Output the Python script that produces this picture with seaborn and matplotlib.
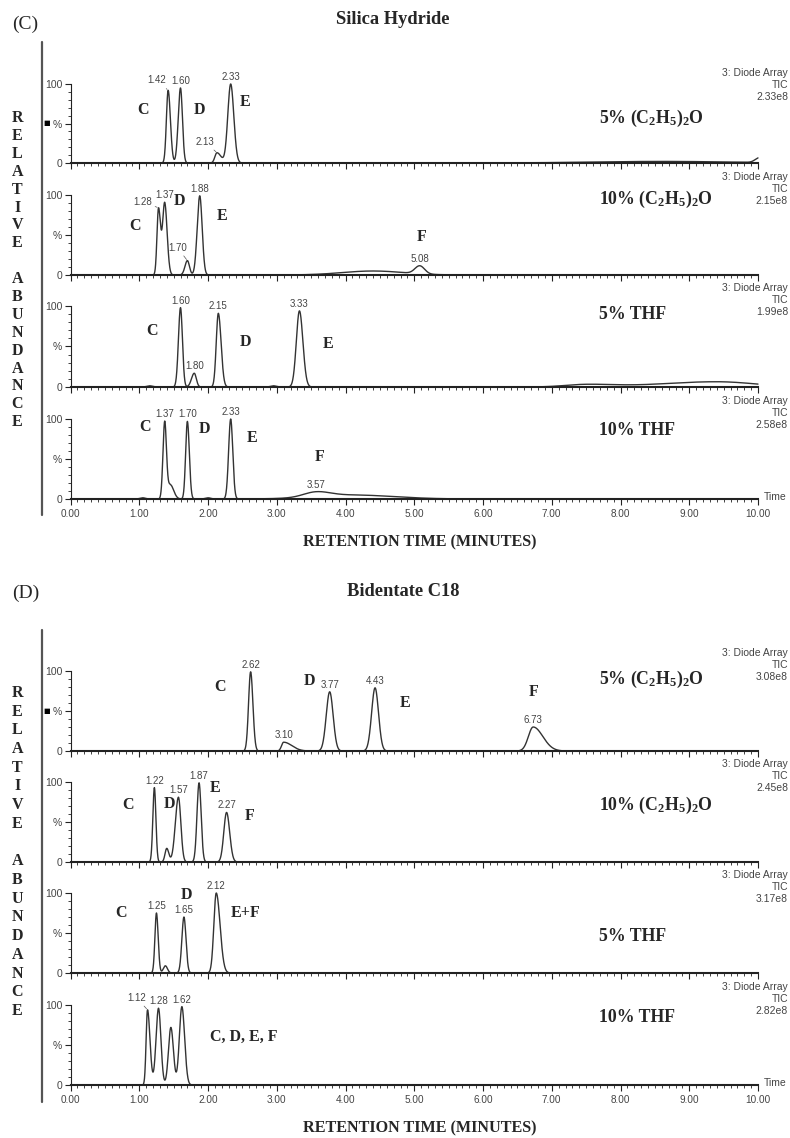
import numpy as np
import pandas as pd
import seaborn as sns
import matplotlib.pyplot as plt
from matplotlib.ticker import MultipleLocator, FixedLocator

# peaks: (retention time, height %, left width, right width)
# (C) silica hydride
c_eth5 = [(1.42, 92, .025, .033), (1.60, 95, .033, .028), (2.13, 13, .03, .06),
          (2.33, 100, .042, .045), (8.6, 2, 1.0, 1.0), (10.02, 6, .06, .06)]
c_eth10 = [(1.28, 83, .022, .03), (1.37, 90, .03, .035), (1.70, 18, .035, .03),
           (1.88, 99, .037, .035), (4.4, 5, .45, .45), (5.08, 10, .07, .07)]
c_thf5 = [(1.15, 1.5, .04, .04), (1.60, 98, .03, .028), (1.80, 17, .04, .03),
          (2.15, 91, .03, .04), (2.95, 1.5, .04, .04), (3.33, 94, .045, .05),
          (7.5, 3, .3, .4), (9.4, 6.5, .8, .55)]
c_thf10 = [(1.05, 1.5, .04, .04), (1.37, 95, .025, .025), (1.45, 18, .04, .05),
           (1.70, 97, .025, .028), (2.0, 1.5, .04, .04), (2.33, 100, .03, .03),
           (3.57, 6, .18, .2), (4.1, 5, .55, .6)]
# (D) bidentate C18
d_eth5 = [(2.62, 99, .03, .033), (3.10, 11, .03, .12), (3.77, 74, .05, .05),
          (4.43, 79, .05, .05), (6.73, 30, .07, .14)]
d_eth10 = [(1.22, 93, .022, .022), (1.40, 17, .025, .03), (1.57, 81, .045, .035),
           (1.87, 99, .03, .03), (2.27, 62, .04, .045)]
d_thf5 = [(1.25, 75, .022, .025), (1.38, 9, .03, .03), (1.65, 70, .03, .03),
          (2.12, 100, .035, .055)]
d_thf10 = [(1.12, 94, .02, .036), (1.28, 96, .036, .035), (1.46, 72, .035, .037),
           (1.62, 98, .037, .04)]

# retention times printed on the traces
c_eth5_lab = [1.42, 1.60, 2.13, 2.33]
c_eth10_lab = [1.28, 1.37, 1.70, 1.88, 5.08]
c_thf5_lab = [1.60, 1.80, 2.15, 3.33]
c_thf10_lab = [1.37, 1.70, 2.33, 3.57]
d_eth5_lab = [2.62, 3.10, 3.77, 4.43, 6.73]
d_eth10_lab = [1.22, 1.57, 1.87, 2.27]
d_thf5_lab = [1.25, 1.65, 2.12]
d_thf10_lab = [1.12, 1.28, 1.62]

# analyte letters: (text, time, %)
c_eth5_ana = [('C', 1.06, 67), ('D', 1.88, 67), ('E', 2.54, 77)]
c_eth10_ana = [('C', 0.94, 61), ('D', 1.59, 92), ('E', 2.20, 74), ('F', 5.11, 48)]
c_thf5_ana = [('C', 1.18, 69), ('D', 2.54, 56), ('E', 3.75, 53)]
c_thf10_ana = [('C', 1.08, 90), ('D', 1.95, 87), ('E', 2.64, 76), ('F', 3.62, 52)]
d_eth5_ana = [('C', 2.17, 80), ('D', 3.47, 87), ('E', 4.87, 60), ('F', 6.73, 74)]
d_eth10_ana = [('C', 0.83, 71), ('D', 1.44, 73), ('E', 2.11, 93), ('F', 2.61, 57)]
d_thf5_ana = [('C', 0.74, 75), ('D', 1.68, 98), ('E+F', 2.54, 75)]
d_thf10_ana = [('C, D, E, F', 2.03, 60)]

eth5 = r'5% (C$_2$H$_5$)$_2$O'
eth10 = r'10% (C$_2$H$_5$)$_2$O'
solvents = [eth5, eth10, '5% THF', '10% THF']
solvent_y = [[57, 94, 89, 86], [89, 71, 46, 85]]
c_tic = ['2.33e8', '2.15e8', '1.99e8', '2.58e8']
d_tic = ['3.08e8', '2.45e8', '3.17e8', '2.82e8']

panels = [
    dict(tag='(C)', title='Silica Hydride', tic=c_tic,
         peaks=[c_eth5, c_eth10, c_thf5, c_thf10],
         labs=[c_eth5_lab, c_eth10_lab, c_thf5_lab, c_thf10_lab],
         ana=[c_eth5_ana, c_eth10_ana, c_thf5_ana, c_thf10_ana]),
    dict(tag='(D)', title='Bidentate C18', tic=d_tic,
         peaks=[d_eth5, d_eth10, d_thf5, d_thf10],
         labs=[d_eth5_lab, d_eth10_lab, d_thf5_lab, d_thf10_lab],
         ana=[d_eth5_ana, d_eth10_ana, d_thf5_ana, d_thf10_ana]),
]

# layout in pixels
W, H = 790, 1138
X0, X1 = 70.5, 758
rows = [[(84, 163), (195, 275), (306, 387), (419, 499)],
        [(671, 751), (782, 862), (893, 973), (1005, 1085)]]
tag_y = [24, 593]
title_y = [20, 592]
title_x = [393, 403]
xlab_y = [542, 1128]
side_top = [118, 693]
side_step = [17.9, 18.7]
vline = [(42, 515), (630, 1102)]
# labels with a leader line (offset in px)
leaders = {(0, 0, 1.42): (-11, 5), (0, 0, 2.13): (-12, 6), (0, 1, 1.28): (-16, 1),
           (0, 1, 1.70): (-10, 8), (1, 3, 1.12): (-11, 7)}

sns.set_style('ticks')
plt.rcParams['font.family'] = ['Liberation Sans', 'DejaVu Sans']
plt.rcParams['mathtext.default'] = 'regular'
SERIF = ['Liberation Serif', 'DejaVu Serif']
INK = '#222222'
LINE = '#333333'
GREY = '#444444'

t_grid = np.linspace(0, 10, 5001)


def trace(peaks):
    y = np.zeros_like(t_grid)
    for rt, h, wl, wr in peaks:
        w = np.where(t_grid < rt, wl, wr)
        y += h * np.exp(-0.5 * ((t_grid - rt) / w) ** 2)
    return y


def fx(px):
    return px / W


def fy(py):
    return 1 - py / H


fig = plt.figure(figsize=(W / 100, H / 100), dpi=100)

for p, panel in enumerate(panels):
    fig.text(fx(12), fy(tag_y[p]), panel['tag'], family=SERIF, fontsize=14,
             ha='left', va='center')
    fig.text(fx(title_x[p]), fy(title_y[p]), panel['title'], family=SERIF,
             fontsize=13.3, fontweight='bold', ha='center', va='center')
    fig.text(fx(420), fy(xlab_y[p]), 'RETENTION TIME (MINUTES)', family=SERIF,
             fontsize=11.6, fontweight='bold', ha='center', va='center')
    letters = list('RELATIVE') + [''] + list('ABUNDANCE')
    for i, ch in enumerate(letters):
        if ch:
            fig.text(fx(17.5), fy(side_top[p] + i * side_step[p]), ch, family=SERIF,
                     fontsize=11.5, fontweight='bold', ha='center', va='center')
    fig.add_artist(plt.Line2D([fx(42), fx(42)], [fy(vline[p][0]), fy(vline[p][1])],
                              color='#555555', lw=1.6))

    for r, (ytop, ybot) in enumerate(rows[p]):
        ax = fig.add_axes([fx(X0), fy(ybot), fx(X1) - fx(X0), (ybot - ytop) / H])
        y = trace(panel['peaks'][r])
        df = pd.DataFrame({'t': t_grid, 'y': y})
        sns.lineplot(data=df, x='t', y='y', ax=ax, color=LINE, lw=1.0,
                     estimator=None, sort=False)
        ax.lines[-1].set_clip_on(False)
        ax.set_xlim(0, 10)
        ax.set_ylim(0, 100)
        ax.set_xlabel('')
        ax.set_ylabel('')
        ax.patch.set_alpha(0)
        for s in ['top', 'right']:
            ax.spines[s].set_visible(False)
        ax.spines['bottom'].set_color(INK)
        ax.spines['bottom'].set_linewidth(1.5)
        ax.spines['left'].set_color(INK)
        ax.spines['left'].set_linewidth(0.8)

        ax.xaxis.set_major_locator(MultipleLocator(1))
        ax.xaxis.set_minor_locator(MultipleLocator(0.1))
        ax.yaxis.set_major_locator(FixedLocator([0, 50, 100]))
        ax.set_yticklabels(['0', '%', '100'])
        ax.yaxis.set_minor_locator(MultipleLocator(10))
        ax.tick_params(which='major', length=4, width=0.8, color=INK,
                       labelsize=7.5, labelcolor=GREY, pad=2)
        ax.tick_params(which='minor', length=2, width=0.6, color=INK)
        last = r == 3
        ax.tick_params(axis='x', labelbottom=last, pad=3, labelsize=7.2)
        if last:
            ax.set_xticklabels([f'{v:.2f}' for v in ax.get_xticks()])
            ax.text(1.008, 0.02, 'Time', transform=ax.transAxes, fontsize=7.5,
                    color=GREY, ha='left', va='center')
        if r == 0:
            fig.text(fx(47), fy((ytop + ybot) / 2), '\u25a0', family='DejaVu Sans',
                     fontsize=5, ha='center', va='center', color='black')

        for lab in panel['labs'][r]:
            yv = np.interp(lab, t_grid, y)
            key = (p, r, lab)
            if key in leaders:
                ax.annotate(f'{lab:.2f}', xy=(lab, yv), xytext=leaders[key],
                            textcoords='offset pixels', ha='center', va='bottom',
                            fontsize=7, color=GREY, annotation_clip=False,
                            arrowprops=dict(arrowstyle='-', color='#555555', lw=0.5,
                                            shrinkA=0, shrinkB=1))
            else:
                ax.annotate(f'{lab:.2f}', xy=(lab, yv), xytext=(0, 2),
                            textcoords='offset pixels', ha='center', va='bottom',
                            fontsize=7, color=GREY, annotation_clip=False)

        for txt, tx, ty in panel['ana'][r]:
            ax.text(tx, ty, txt, family=SERIF, fontsize=11.5, fontweight='bold',
                    ha='center' if len(txt) < 4 else 'left', va='center')

        ax.text(7.69, solvent_y[p][r], solvents[r], family=SERIF, fontsize=12.8,
                fontweight='bold', ha='left', va='center')

        top = ytop - (11 if (p == 0 and r == 0) else 18) - 5
        fig.text(fx(788), fy(top), f'3: Diode Array\nTIC\n{panel["tic"][r]}',
                 fontsize=7.5, color=GREY, ha='right', va='top',
                 multialignment='right', linespacing=1.25)

fig.savefig('out.png', dpi=100)
